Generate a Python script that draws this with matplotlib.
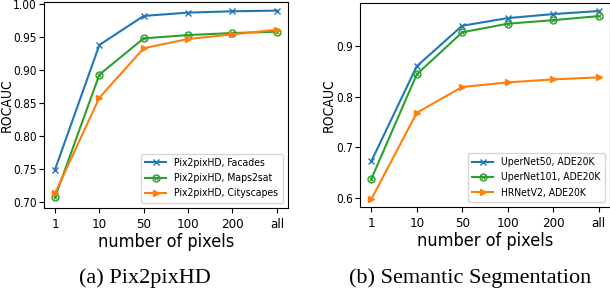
import numpy as np
import matplotlib.pyplot as plt

plt.rcParams['font.stretch'] = 'condensed'

pixel_labels = ['1', '10', '50', '100', '200', 'all']

# (a) Pix2pixHD
facades = [0.749, 0.938, 0.982, 0.987, 0.989, 0.990]
maps2sat = [0.707, 0.893, 0.948, 0.953, 0.956, 0.958]
cityscapes = [0.713, 0.858, 0.933, 0.947, 0.954, 0.961]

# (b) Semantic Segmentation
upernet50 = [0.672, 0.860, 0.940, 0.955, 0.963, 0.969]
upernet101 = [0.637, 0.844, 0.927, 0.944, 0.951, 0.959]
hrnetv2 = [0.597, 0.768, 0.819, 0.828, 0.834, 0.838]

blue, green, orange = '#1f77b4', '#2ca02c', '#ff7f0e'
x = np.arange(len(pixel_labels))

fig = plt.figure(figsize=(6.1, 2.94), dpi=100)
ax1 = fig.add_axes([0.072, 0.293, 0.400, 0.700])
ax2 = fig.add_axes([0.590, 0.296, 0.410, 0.694])

def draw(ax, series, names):
    l1, = ax.plot(x, series[0], color=blue, marker='x', markersize=5, linewidth=1.5)
    l2, = ax.plot(x, series[1], color=green, marker='o', markersize=5, mfc='none', mew=1, linewidth=1.5)
    l2b, = ax.plot(x, series[1], color=green, marker='x', markersize=3.5, mew=0.8, linestyle='none')
    l3, = ax.plot(x, series[2], color=orange, marker='>', markersize=5, linewidth=1.5)
    ax.set_xticks(x)
    ax.set_xticklabels(pixel_labels)
    ax.tick_params(labelsize=9.5)
    ax.tick_params(axis='y', labelsize=8.5, pad=1.5)
    ax.set_xlabel('number of pixels', fontsize=13, labelpad=2)
    ax.set_ylabel('ROCAUC', fontsize=10)
    ax.legend([l1, (l2, l2b), l3], names, loc='lower right', fontsize=7.5)

draw(ax1, [facades, maps2sat, cityscapes],
     ['Pix2pixHD, Facades', 'Pix2pixHD, Maps2sat', 'Pix2pixHD, Cityscapes'])
ax1.set_yticks([0.70, 0.75, 0.80, 0.85, 0.90, 0.95, 1.00])
ax1.set_yticklabels(['0.70', '0.75', '0.80', '0.85', '0.90', '0.95', '1.00'])
ax1.set_ylim(0.691, 1.003)
ax1.yaxis.set_label_coords(-0.122, 0.5)

draw(ax2, [upernet50, upernet101, hrnetv2],
     ['UperNet50, ADE20K', 'UperNet101, ADE20K', 'HRNetV2, ADE20K'])
ax2.set_yticks([0.6, 0.7, 0.8, 0.9])
ax2.set_ylim(0.582, 0.985)
ax2.yaxis.set_label_coords(-0.096, 0.5)

fig.text(0.237, 0.055, '(a) Pix2pixHD', family='Liberation Serif', fontsize=16, ha='center', va='center')
fig.text(0.770, 0.055, '(b) Semantic Segmentation', family='Liberation Serif', fontsize=16, ha='center', va='center')

fig.savefig('out.png', dpi=100)
